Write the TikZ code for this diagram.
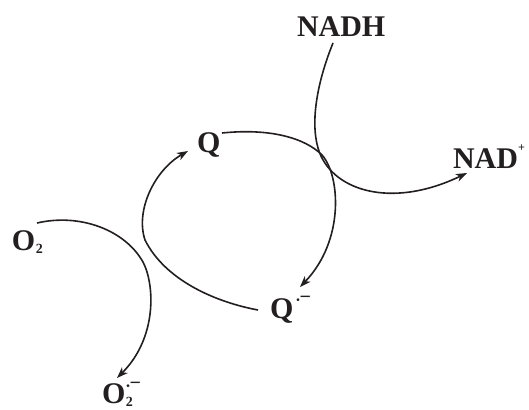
\documentclass[tikz,border=0pt]{standalone}
\usepackage{fontspec}
\setmainfont{Liberation Serif}
\usetikzlibrary{arrows.meta}
\definecolor{ink}{HTML}{231F20}
\newcommand\radm[2]{\kern#1\raisebox{#2}{\fontsize{10}{10}\selectfont\textbullet}\kern-0.3pt\raisebox{\dimexpr#2+0.5pt\relax}{\fontsize{20}{20}\selectfont −}}
\begin{document}
\begin{tikzpicture}[x=1pt,y=-1pt,
  lbl/.style={anchor=base west,inner sep=0pt,outer sep=0pt,text=ink,font=\fontsize{30}{30}\bfseries\selectfont},
  conn/.style={draw=ink,line width=1.6pt,-{Stealth[length=11pt,width=8pt,inset=3pt]}}]
\useasboundingbox (0,0) rectangle (529,409);
\node[lbl] (nadh) at (297,37) {NADH};
\node[lbl] (nadp) at (453,168) {NAD\raisebox{17pt}{\fontsize{12}{12}\selectfont +}};
\node[lbl] (q) at (197,152) {Q};
\node[lbl] (qr) at (270,318) {Q\radm{3pt}{14.5pt}};
\node[lbl] (o2) at (12,250) {O\kern0.5pt\raisebox{-3pt}{\fontsize{14}{14}\selectfont 2}};
\node[lbl] (sup) at (102,403) {O\rlap{\kern0.5pt\raisebox{-3pt}{\fontsize{14}{14}\selectfont 2}}\radm{1pt}{13.5pt}};
% endpoints
\coordinate (a1) at (333,43);
\coordinate (a2) at (467,173);
\coordinate (b1) at (222,133);
\coordinate (b2) at (300,287);
\coordinate (c1) at (258,310);
\coordinate (c2) at (188,151);
\coordinate (d1) at (37,223);
\coordinate (d2) at (117,378);
% NADH -> NAD+
\draw[conn] (a1) .. controls (318,80) and (310,120) .. (318,148)
  .. controls (330,190) and (390,210) .. (a2);
% Q -> Q.-
\draw[conn] (b1) .. controls (270,128) and (305,138) .. (322,155)
  .. controls (340,175) and (345,240) .. (b2);
% Q.- -> Q
\draw[conn] (c1) .. controls (215,302) and (165,280) .. (145,240)
  .. controls (135,210) and (155,170) .. (c2);
% O2 -> O2.-
\draw[conn] (d1) .. controls (80,213) and (125,230) .. (143,262)
  .. controls (155,285) and (157,338) .. (d2);
\end{tikzpicture}
\end{document}
